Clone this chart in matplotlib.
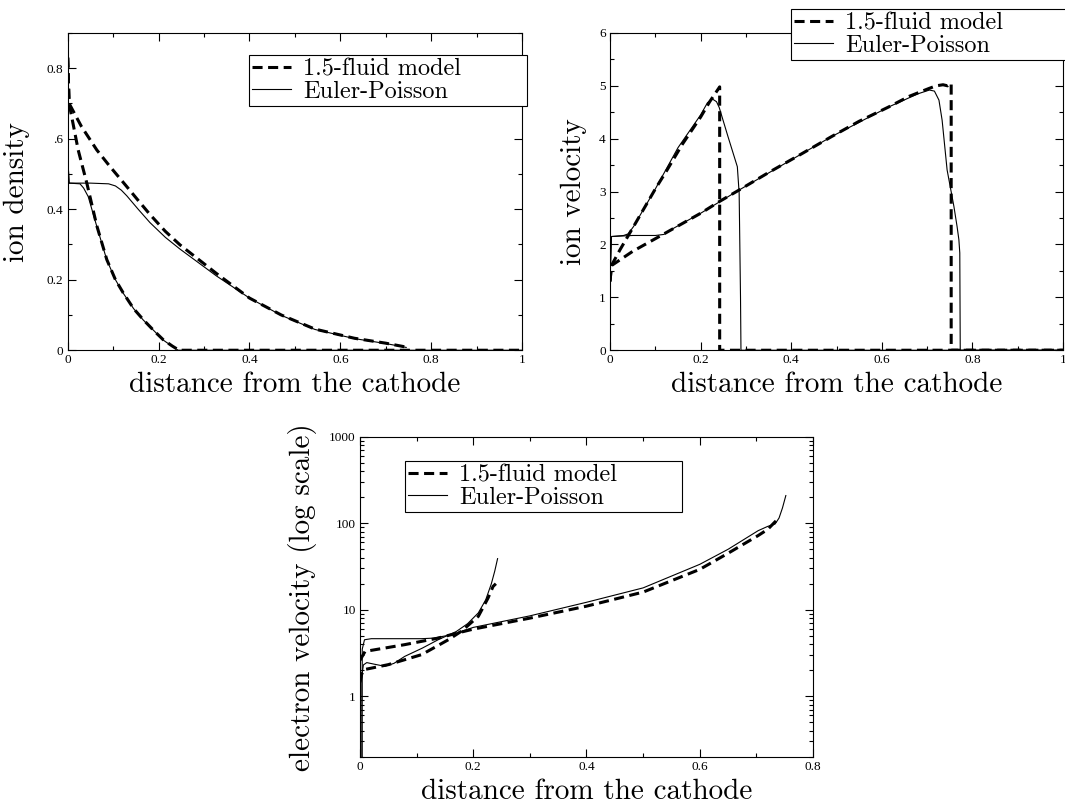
import matplotlib
matplotlib.use("Agg")
import matplotlib.pyplot as plt
from matplotlib.ticker import MultipleLocator, LogLocator, NullFormatter

# ion density, short sheath (ends near 0.25) and long sheath (ends near 0.75)
dens_fluid_short_x = [0, 0.003, 0.023, 0.042, 0.064, 0.086, 0.105, 0.122, 0.145, 0.166, 0.19, 0.21, 0.23, 0.245, 1.0]
dens_fluid_short_y = [0.83, 0.70, 0.568, 0.474, 0.353, 0.257, 0.2, 0.163, 0.118, 0.087, 0.055, 0.03, 0.012, 0.0, 0.0]
dens_ep_short_x = [0, 0.003, 0.027, 0.035, 0.045, 0.064, 0.086, 0.105, 0.122, 0.145, 0.166, 0.19, 0.21, 0.23, 0.243, 1.0]
dens_ep_short_y = [0.55, 0.474, 0.472, 0.46, 0.436, 0.351, 0.256, 0.2, 0.162, 0.118, 0.086, 0.055, 0.029, 0.011, 0.0, 0.0]
dens_fluid_long_x = [0, 0.003, 0.03, 0.064, 0.093, 0.13, 0.155, 0.181, 0.215, 0.247, 0.327, 0.40, 0.47, 0.544, 0.631, 0.70, 0.749]
dens_fluid_long_y = [0.83, 0.70, 0.635, 0.568, 0.521, 0.464, 0.425, 0.385, 0.337, 0.299, 0.218, 0.148, 0.10, 0.06, 0.034, 0.02, 0.008]
dens_ep_long_x = [0, 0.003, 0.05, 0.09, 0.105, 0.118, 0.13, 0.155, 0.181, 0.215, 0.247, 0.327, 0.40, 0.47, 0.544, 0.631, 0.70, 0.745]
dens_ep_long_y = [0.55, 0.474, 0.474, 0.472, 0.466, 0.454, 0.438, 0.40, 0.362, 0.32, 0.287, 0.211, 0.148, 0.099, 0.059, 0.033, 0.019, 0.008]

# ion velocity
vel_fluid_short_x = [0, 0.003, 0.022, 0.052, 0.10, 0.126, 0.16, 0.20, 0.22, 0.242, 0.242, 1.0]
vel_fluid_short_y = [1.3, 1.6, 1.9, 2.34, 3.05, 3.41, 3.9, 4.41, 4.7, 4.98, 0.0, 0.0]
vel_ep_short_x = [0, 0.003, 0.03, 0.04, 0.052, 0.10, 0.15, 0.20, 0.215, 0.226, 0.235, 0.241, 0.26, 0.281, 0.285, 0.288, 0.289, 1.0]
vel_ep_short_y = [1.3, 2.15, 2.17, 2.2, 2.34, 3.05, 3.83, 4.45, 4.68, 4.75, 4.7, 4.59, 4.05, 3.47, 2.97, 1.0, 0.0, 0.0]
vel_fluid_long_x = [0, 0.003, 0.05, 0.119, 0.2, 0.241, 0.285, 0.35, 0.42, 0.489, 0.55, 0.615, 0.66, 0.704, 0.72, 0.735, 0.745, 0.752, 0.753, 0.753, 1.0]
vel_fluid_long_y = [1.3, 1.6, 1.87, 2.2, 2.59, 2.81, 3.03, 3.36, 3.7, 4.04, 4.33, 4.6, 4.8, 4.95, 5.0, 5.02, 5.0, 5.05, 5.05, 0.0, 0.0]
vel_ep_long_x = [0, 0.003, 0.05, 0.1, 0.119, 0.141, 0.2, 0.285, 0.4, 0.489, 0.615, 0.68, 0.705, 0.716, 0.726, 0.733, 0.744, 0.759, 0.766, 0.77, 0.772, 0.773, 1.0]
vel_ep_long_y = [1.3, 2.15, 2.17, 2.17, 2.19, 2.31, 2.59, 3.03, 3.6, 4.04, 4.6, 4.85, 4.92, 4.9, 4.73, 4.35, 3.41, 2.72, 2.34, 2.09, 1.84, 0.0, 0.0]

# electron velocity (log scale)
evel_fluid_short_x = [0, 0.003, 0.007, 0.05, 0.109, 0.156, 0.18, 0.209, 0.226, 0.235, 0.24]
evel_fluid_short_y = [1.45, 1.8, 2.03, 2.32, 3.03, 4.5, 5.7, 8.4, 13.6, 18.6, 20.0]
evel_ep_short_x = [0.002, 0.002, 0.006, 0.012, 0.025, 0.044, 0.06, 0.079, 0.11, 0.138, 0.17, 0.19, 0.209, 0.222, 0.232, 0.238, 0.243]
evel_ep_short_y = [0.1, 1.5, 2.3, 2.45, 2.35, 2.22, 2.4, 2.89, 3.6, 4.5, 5.6, 6.9, 9.2, 13.0, 20.0, 28.0, 39.0]
evel_fluid_long_x = [0, 0.009, 0.079, 0.138, 0.173, 0.2, 0.3, 0.4, 0.5, 0.6, 0.65, 0.703, 0.72, 0.739]
evel_fluid_long_y = [2.6, 3.3, 3.95, 4.7, 5.4, 5.97, 8.0, 11.0, 16.0, 29.3, 45.0, 72.0, 85.0, 114.0]
evel_ep_long_x = [0.004, 0.004, 0.008, 0.02, 0.109, 0.13, 0.162, 0.2, 0.3, 0.4, 0.5, 0.6, 0.65, 0.703, 0.72, 0.733, 0.74, 0.746, 0.752]
evel_ep_long_y = [0.1, 3.5, 4.5, 4.63, 4.63, 4.7, 5.15, 6.25, 8.5, 12.2, 17.9, 33.5, 50.0, 82.0, 92.0, 98.0, 115.0, 150.0, 209.0]

label_fluid = "1.5-fluid model"
label_ep = "Euler-Poisson"
xlabel = "distance from the cathode"

plt.rcParams["axes.linewidth"] = 0.8
plt.rcParams["axes.unicode_minus"] = False

dash = dict(color="black", lw=2.2, linestyle=(0, (3.3, 1.8)))
solid = dict(color="black", lw=0.8)
big = dict(family=["cmr10", "DejaVu Serif"], size=21)
tickfont = ["Liberation Serif", "DejaVu Serif"]


def style(ax, xt, xl, yt, yl):
    ax.set_xticks(xt)
    ax.set_xticklabels(xl)
    ax.set_yticks(yt)
    ax.set_yticklabels(yl)
    ax.tick_params(which="both", direction="in", top=True, right=True, width=0.8)
    ax.tick_params(which="major", length=6, pad=3)
    ax.tick_params(which="minor", length=3)
    for t in ax.get_xticklabels() + ax.get_yticklabels():
        t.set_family(tickfont)
        t.set_size(9.5)
    ax.set_xlabel(xlabel, fontdict=big, labelpad=4)


def add_legend(ax, x, y, w):
    leg = ax.legend(loc="upper left", bbox_to_anchor=(x, y - 0.2, w, 0.2), mode="expand",
                    prop=dict(family=["cmr10", "DejaVu Serif"], size=17.5),
                    frameon=True, fancybox=False, framealpha=1, edgecolor="black",
                    borderpad=0.12, labelspacing=0.02, handlelength=1.6, handletextpad=0.5,
                    borderaxespad=0)
    leg.get_frame().set_linewidth(0.8)


fig = plt.figure(figsize=(10.65, 8.07), dpi=100)

# ion density
ax1 = fig.add_axes([0.0636, 0.566, 0.4266, 0.3932])
ax1.plot(dens_fluid_short_x, dens_fluid_short_y, label=label_fluid, **dash)
ax1.plot(dens_ep_short_x, dens_ep_short_y, label=label_ep, **solid)
ax1.plot(dens_fluid_long_x, dens_fluid_long_y, **dash)
ax1.plot(dens_ep_long_x, dens_ep_long_y, **solid)
ax1.set_xlim(0, 1)
ax1.set_ylim(0, 0.9)
ax1.xaxis.set_minor_locator(MultipleLocator(0.1))
ax1.yaxis.set_minor_locator(MultipleLocator(0.1))
style(ax1, [0, 0.2, 0.4, 0.6, 0.8, 1], ["0", "0.2", "0.4", "0.6", "0.8", "1"],
      [0, 0.2, 0.4, 0.6, 0.8], ["0", "0.2", "0.4", ".6", "0.8"])
ax1.set_ylabel("ion density", fontdict=big, labelpad=12)
add_legend(ax1, 0.40, 0.93, 0.61)

# ion velocity
ax2 = fig.add_axes([0.5728, 0.566, 0.4254, 0.3932])
ax2.plot(vel_fluid_short_x, vel_fluid_short_y, label=label_fluid, **dash)
ax2.plot(vel_ep_short_x, vel_ep_short_y, label=label_ep, **solid)
ax2.plot(vel_fluid_long_x, vel_fluid_long_y, **dash)
ax2.plot(vel_ep_long_x, vel_ep_long_y, **solid)
ax2.set_xlim(0, 1)
ax2.set_ylim(0, 6)
ax2.xaxis.set_minor_locator(MultipleLocator(0.1))
ax2.yaxis.set_minor_locator(MultipleLocator(0.5))
style(ax2, [0, 0.2, 0.4, 0.6, 0.8, 1], ["0", "0.2", "0.4", "0.6", "0.8", "1"],
      [0, 1, 2, 3, 4, 5, 6], ["0", "1", "2", "3", "4", "5", "6"])
ax2.set_ylabel("ion velocity", fontdict=big, labelpad=9)
add_legend(ax2, 0.40, 1.075, 0.62)

# electron velocity
ax3 = fig.add_axes([0.338, 0.0623, 0.4254, 0.3965])
ax3.plot(evel_fluid_short_x, evel_fluid_short_y, label=label_fluid, **dash)
ax3.plot(evel_ep_short_x, evel_ep_short_y, label=label_ep, **solid)
ax3.plot(evel_fluid_long_x, evel_fluid_long_y, **dash)
ax3.plot(evel_ep_long_x, evel_ep_long_y, **solid)
ax3.set_yscale("log")
ax3.set_xlim(0, 0.8)
ax3.set_ylim(0.2, 1000)
ax3.xaxis.set_minor_locator(MultipleLocator(0.1))
ax3.yaxis.set_minor_locator(LogLocator(base=10, subs=range(2, 10)))
ax3.yaxis.set_minor_formatter(NullFormatter())
style(ax3, [0, 0.2, 0.4, 0.6, 0.8], ["0", "0.2", "0.4", "0.6", "0.8"],
      [1, 10, 100, 1000], ["1", "10", "100", "1000"])
ax3.set_ylabel("electron velocity (log scale)", fontdict=big, labelpad=9)
add_legend(ax3, 0.10, 0.924, 0.61)

fig.savefig("out.png", dpi=100)
